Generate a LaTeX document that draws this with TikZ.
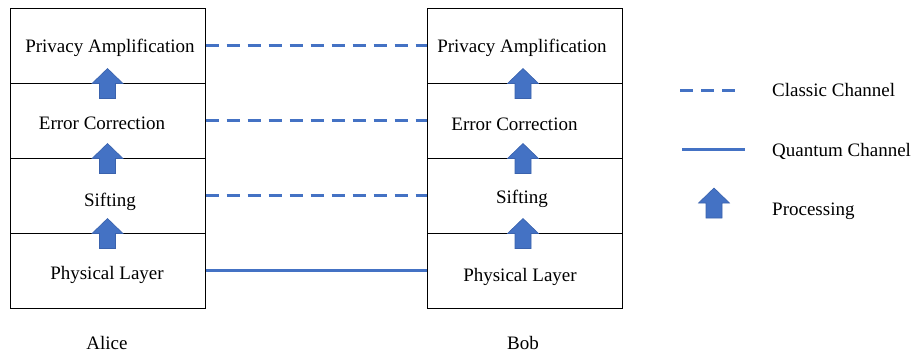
\documentclass[tikz,border=0pt]{standalone}
\usepackage{fontspec}
\setmainfont{Liberation Serif}
\definecolor{chanblue}{HTML}{4472C4}
\definecolor{arrowedge}{HTML}{3A62AD}
\tikzset{
  layerbox/.style={draw=black, line width=1pt, minimum width=195pt, minimum height=75pt, inner sep=0pt},
  txt/.style={font=\fontsize{19}{22}\selectfont, text height=12.6pt, text depth=0pt, inner sep=0pt},
  classic/.style={draw=chanblue, line width=3pt, dash pattern=on 13pt off 8pt},
  quantum/.style={draw=chanblue, line width=3pt},
  uparrow/.pic={
    \filldraw[fill=chanblue, draw=arrowedge, line width=0.6pt]
      (-8,15) -- (-8,0) -- (-15.5,0) -- (0,-15) -- (15.5,0) -- (8,0) -- (8,15) -- cycle;
  }
}
\begin{document}
\begin{tikzpicture}[x=1pt, y=-1pt]
\useasboundingbox (0,0) rectangle (914,356);

% Alice protocol stack
\node[layerbox] (a4) at (107.5,45.5) {};
\node[layerbox] (a3) at (107.5,120.5) {};
\node[layerbox] (a2) at (107.5,195.5) {};
\node[layerbox] (a1) at (107.5,270.5) {};
\node[txt] (a4t) at (110,46.5) {Privacy Amplification};
\node[txt] (a3t) at (102,123.5) {Error Correction};
\node[txt] (a2t) at (110,200) {Sifting};
\node[txt] (a1t) at (107,273.5) {Physical Layer};

% Bob protocol stack
\node[layerbox] (b4) at (524.5,45.5) {};
\node[layerbox] (b3) at (524.5,120.5) {};
\node[layerbox] (b2) at (524.5,195.5) {};
\node[layerbox] (b1) at (524.5,270.5) {};
\node[txt] (b4t) at (522,46.5) {Privacy Amplification};
\node[txt] (b3t) at (514.5,124) {Error Correction};
\node[txt] (b2t) at (522,197) {Sifting};
\node[txt] (b1t) at (520,275) {Physical Layer};

% processing arrows between layers
\pic at (a4.south) {uparrow};
\pic at (a3.south) {uparrow};
\pic at (a2.south) {uparrow};
\pic at (b4.south-|523,0) {uparrow};
\pic at (b3.south-|523,0) {uparrow};
\pic at (b2.south-|523,0) {uparrow};

% channels
\draw[classic] (a4.east) -- (b4.west);
\draw[classic] (a3.east) -- (b3.west);
\draw[classic] (a2.east) -- (b2.west);
\draw[quantum] (a1.east) -- (b1.west);

% parties
\node[txt] (alice) at (107,343) {Alice};
\node[txt] (bob) at (523,343) {Bob};

% legend
\coordinate (l1a) at (680,90);
\coordinate (l1b) at (738,90);
\coordinate (l2a) at (682,149);
\coordinate (l2b) at (745,149);
\draw[classic] (l1a) -- (l1b);
\draw[quantum] (l2a) -- (l2b);
\pic at (714,203) {uparrow};
\node[txt, anchor=west] (lg1) at (772,90.5) {Classic Channel};
\node[txt, anchor=west] (lg2) at (772,150.5) {Quantum Channel};
\node[txt, anchor=west] (lg3) at (772,209) {Processing};
\end{tikzpicture}
\end{document}
